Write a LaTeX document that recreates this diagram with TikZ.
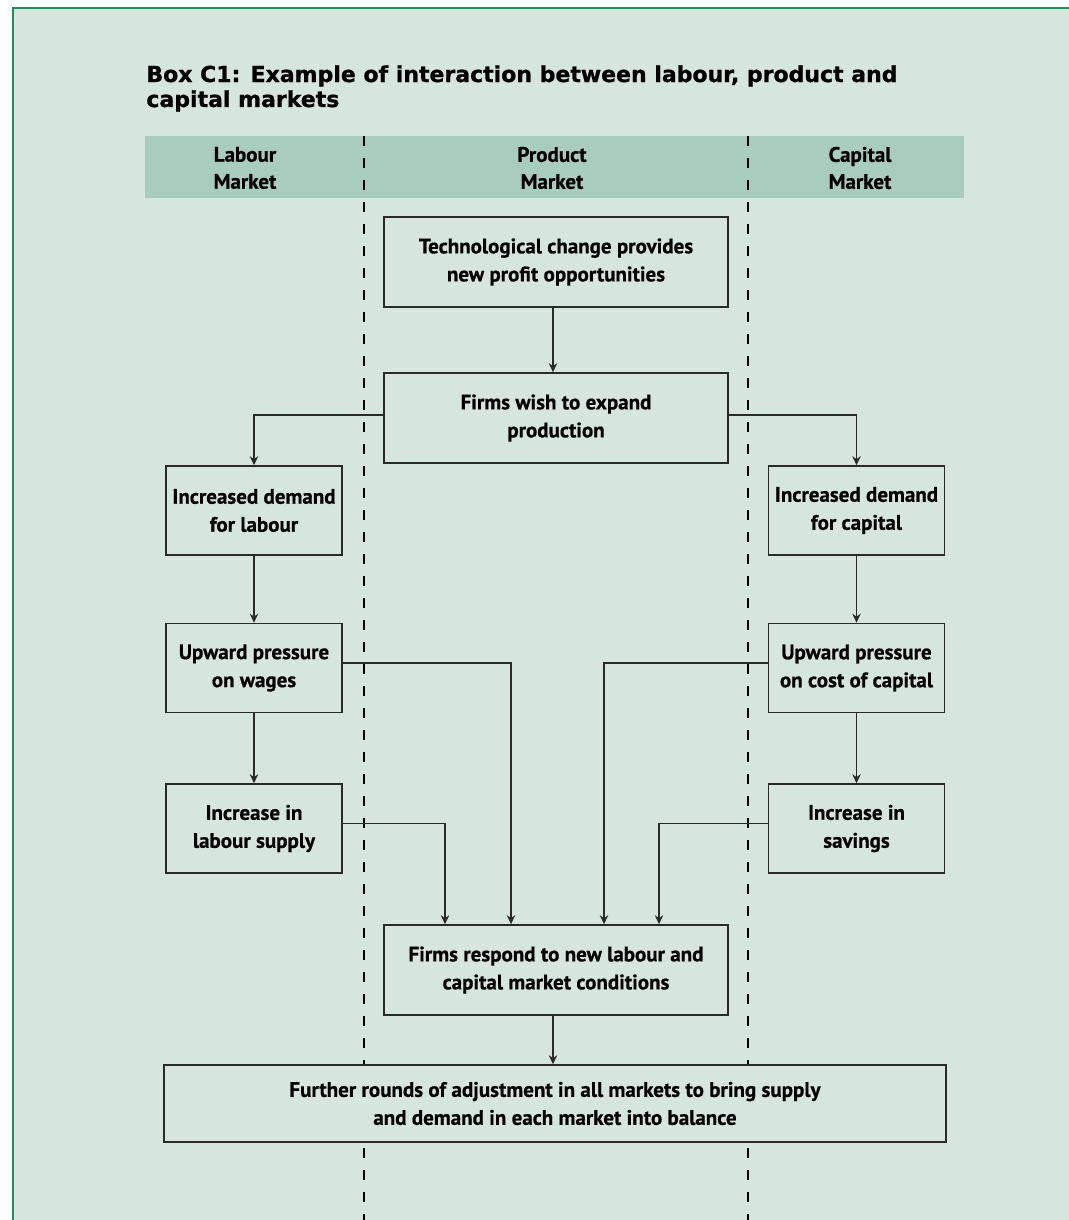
\documentclass[tikz,border=0pt]{standalone}
\usepackage{fontspec}
\setmainfont{PT Sans}[BoldFeatures={FakeBold=0.6}]
\newfontfamily\titlefont{DejaVu Sans}[BoldFeatures={FakeBold=1}]
\usetikzlibrary{arrows.meta,calc}
\definecolor{bg}{HTML}{D6E5DE}
\definecolor{hdr}{HTML}{A8CDBE}
\definecolor{framegreen}{HTML}{1F8E5F}
\definecolor{ink}{HTML}{2A2A2A}
\begin{document}
\begin{tikzpicture}[x=0.5pt,y=-0.5pt,
  box/.style={draw=ink, line width=0.8pt, fill=bg, inner sep=0pt, align=center,
    font=\bfseries\fontsize{10.5}{14}\selectfont, text=black},
  wide/.style={box, minimum width=172pt, minimum height=45pt},
  side/.style={box, minimum width=88pt, minimum height=44.5pt},
  conn/.style={draw=ink, line width=0.65pt, -{Stealth[length=4.5pt,width=4.2pt]}},
  divider/.style={black, line width=0.8pt, dash pattern=on 5pt off 6pt},
  hdrtext/.style={align=center, inner sep=0pt, font=\bfseries\fontsize{10.5}{13.5}\selectfont}
]
\useasboundingbox (0,0) rectangle (1069,1220);
\fill[bg] (13,8) rectangle (1069,1220);
\draw[framegreen, line width=1.2pt] (13,1220) -- (13,8) -- (1069,8);

% title
\node[anchor=base west, align=left, inner sep=0pt,
  font=\titlefont\bfseries\fontsize{11}{12.5}\selectfont] (title) at (146,107)
  {Box C1: Example of interaction between labour, product and\\capital markets};

% header band
\fill[hdr] (145,136) rectangle (964,198);
\node[hdrtext] (hL) at (245,168) {Labour\\Market};
\node[hdrtext] (hP) at (552,168) {Product\\Market};
\node[hdrtext] (hC) at (860,168) {Capital\\Market};

% dividers
\draw[divider] (364,136) -- (364,1220);
\draw[divider] (748,136) -- (748,1220);

% boxes
\node[wide] (tech) at (556,262) {Technological change provides\\new profit opportunities};
\node[wide] (expand) at (556,418) {Firms wish to expand\\production};
\node[side] (dl) at (254,510.5) {Increased demand\\for labour};
\node[side] (dc) at (856.5,510.5) {Increased demand\\for capital};
\node[side] (pw) at (254,668) {Upward pressure\\on wages};
\node[side] (pc) at (856.5,668) {Upward pressure\\on cost of capital};
\node[side] (ls) at (254,828.5) {Increase in\\labour supply};
\node[side] (sv) at (856.5,828.5) {Increase in\\savings};
\node[wide] (resp) at (556,970) {Firms respond to new labour and\\capital market conditions};
\node[box, minimum width=391pt, minimum height=38.5pt] (fur) at (555,1103.5)
  {Further rounds of adjustment in all markets to bring supply\\and demand in each market into balance};

% drop points
\coordinate (k1) at (445,0);
\coordinate (k2) at (511,0);
\coordinate (k3) at (604,0);
\coordinate (k4) at (659,0);

% connectors
\draw[conn] ([xshift=-1.5pt]tech.south) -- ([xshift=-1.5pt]expand.north);
\draw[conn] ([yshift=1.5pt]expand.west) -| (dl.north);
\draw[conn] ([yshift=1.5pt]expand.east) -| (dc.north);
\draw[conn] (dl.south) -- (pw.north);
\draw[conn] (pw.south) -- (ls.north);
\draw[conn] (dc.south) -- (pc.north);
\draw[conn] (pc.south) -- (sv.north);
\draw[conn] ([yshift=2.5pt]pw.east) -| (resp.north -| k2);
\draw[conn] ([yshift=2.5pt]ls.east) -| (resp.north -| k1);
\draw[conn] ([yshift=2.5pt]pc.west) -| (resp.north -| k3);
\draw[conn] ([yshift=2.5pt]sv.west) -| (resp.north -| k4);
\draw[conn] ([xshift=-1.5pt]resp.south) -- ([xshift=-1pt]fur.north);
\end{tikzpicture}
\end{document}
